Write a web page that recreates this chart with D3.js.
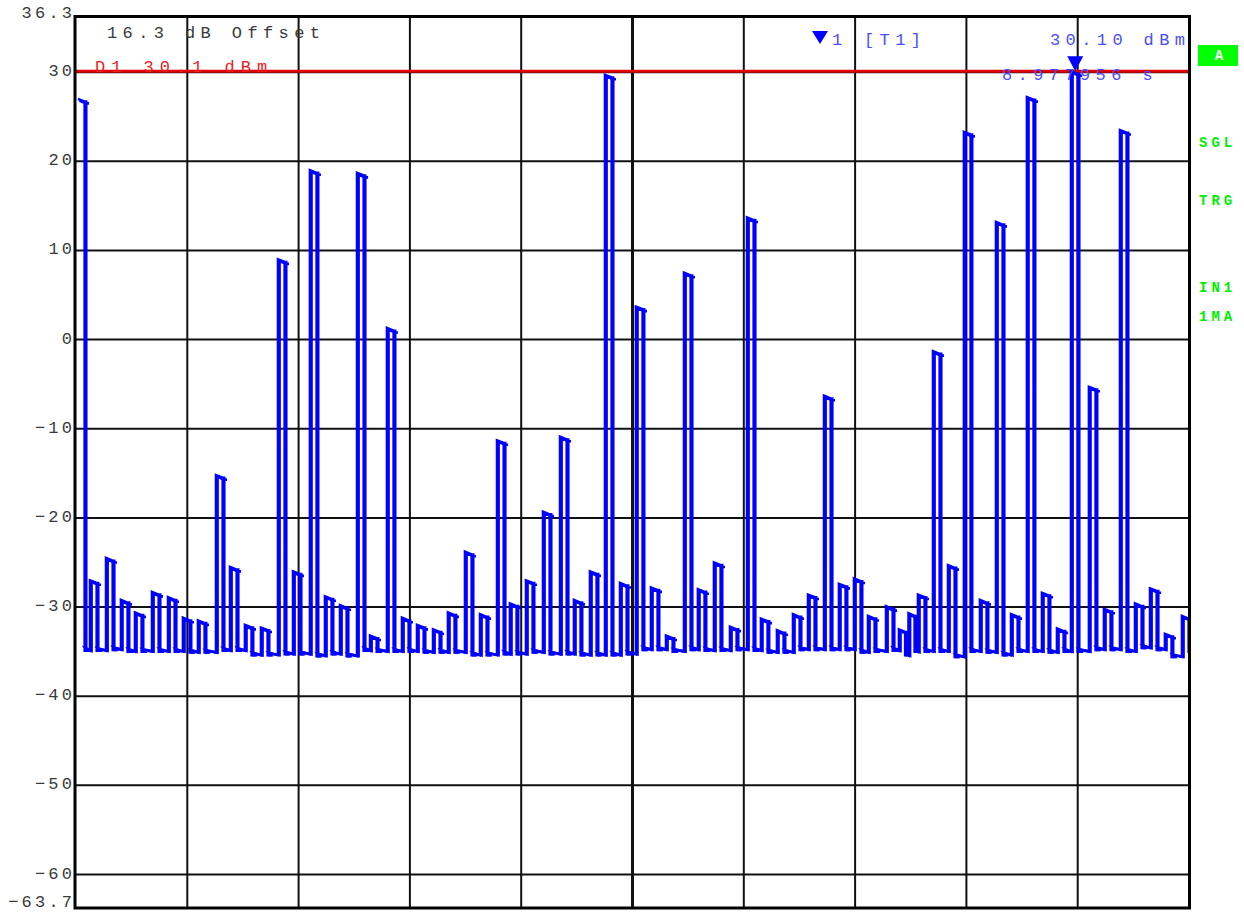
<!DOCTYPE html>
<html>
<head>
<meta charset="utf-8">
<script src="https://cdn.jsdelivr.net/npm/d3@7"></script>
<style>
  html, body { margin: 0; padding: 0; background: #fff; }
  svg { display: block; }
  text { font-family: "Liberation Mono", "DejaVu Sans Mono", monospace; }
</style>
</head>
<body>
<svg id="chart" width="1244" height="913"></svg>
<script>
// Zero-span power sweep: 10 s of burst power, ref level 36.3 dBm, 10 dB/div.
const sweepSeconds = [0, 10];
const levelRange = [-63.7, 36.3];
const yTickValues = [30, 20, 10, 0, -10, -20, -30, -40, -50, -60];

// Burst start times (s)
const burstStart = [
  0.018, 0.126, 0.270, 0.404, 0.530, 0.683, 0.827, 0.961, 1.096, 1.258,
  1.384, 1.518, 1.662, 1.815, 1.950, 2.102, 2.237, 2.372, 2.525, 2.642,
  2.794, 2.929, 3.064, 3.208, 3.342, 3.495, 3.630, 3.783, 3.899, 4.043,
  4.196, 4.349, 4.474, 4.618, 4.753, 4.888, 5.031, 5.166, 5.301, 5.463,
  5.588, 5.732, 5.876, 6.029, 6.154, 6.298, 6.442, 6.577, 6.721, 6.855,
  6.990, 7.116, 7.278, 7.394, 7.480, 7.565, 7.700, 7.835, 7.978, 8.122,
  8.266, 8.401, 8.544, 8.679, 8.814, 8.940, 9.101, 9.236, 9.380, 9.515,
  9.650, 9.784, 9.937
];
// Burst power (dBm)
const burstLevel = [
  27.0, -27.0, -24.5, -29.2, -30.6, -28.3, -28.9, -31.2, -31.5, -15.2,
  -25.5, -32.0, -32.3, 9.0, -26.0, 19.0, -28.8, -29.8, 18.7, -33.2,
  1.3, -31.2, -32.0, -32.5, -30.6, -23.8, -30.8, -11.3, -29.6, -27.0,
  -19.3, -10.9, -29.2, -26.0, 29.7, -27.3, 3.7, -27.8, -33.2, 7.5,
  -28.0, -25.0, -32.2, 13.7, -31.3, -32.6, -30.8, -28.6, -6.3, -27.4,
  -26.8, -31.0, -29.9, -32.5, -30.7, -28.6, -1.3, -25.3, 23.3, -29.2,
  13.2, -30.8, 27.2, -28.4, -32.4, 30.1, -5.3, -30.2, 23.5, -29.6,
  -27.9, -33.0, -31.0
];
// Noise floor between bursts (dBm), level reached after each burst
const gapFloor = [
  -34.9, -34.9, -34.8, -35.0, -35.0, -35.0, -35.0, -35.1, -35.1, -34.9,
  -34.9, -35.4, -35.4, -35.3, -35.3, -35.5, -35.3, -35.5, -34.9, -35.0,
  -35.0, -35.0, -35.1, -35.1, -35.1, -35.4, -35.4, -35.3, -35.3, -35.1,
  -35.3, -35.3, -35.4, -35.4, -35.4, -35.3, -34.8, -34.8, -35.0, -34.8,
  -34.9, -34.9, -34.8, -34.9, -35.1, -35.1, -34.8, -34.8, -34.8, -34.8,
  -35.1, -35.0, -34.9, -35.4, -35.0, -35.0, -35.0, -35.6, -35.0, -35.1,
  -35.4, -35.0, -35.0, -35.1, -35.0, -35.0, -34.8, -34.8, -35.0, -34.6,
  -34.8, -35.6, -35.0
];

const displayLine = 30.1;
const markerTime = 8.977956;
const markerLevel = 30.10;

const svg = d3.select("#chart");
const L = 76, R = 1189, T = 16, B = 907.5;
const x = d3.scaleLinear().domain(sweepSeconds).range([L, R]);
const y = d3.scaleLinear().domain(levelRange).range([B, T]);

const fmt = v => (v < 0 ? "\u2212" : "") + Math.abs(v);

// Grid
const grid = svg.append("g");
grid.selectAll("line.h").data(yTickValues).join("line")
  .attr("x1", L).attr("x2", R)
  .attr("y1", d => y(d)).attr("y2", d => y(d))
  .attr("stroke", "#111").attr("stroke-width", 2);
const xGrid = x.ticks(10).filter(d => d > sweepSeconds[0] && d < sweepSeconds[1]);
grid.selectAll("line.v").data(xGrid).join("line")
  .attr("x1", d => x(d)).attr("x2", d => x(d))
  .attr("y1", T).attr("y2", B)
  .attr("stroke", "#111").attr("stroke-width", d => d === 5 ? 3 : 2);

// Display line D1
svg.append("line")
  .attr("x1", L).attr("x2", R)
  .attr("y1", y(displayLine)).attr("y2", y(displayLine))
  .attr("stroke", "#e00000").attr("stroke-width", 3.2);

// Trace: each burst is a narrow pulse with a short overshoot tick after the top
// and the fall; the detector draws two samples per pixel, so the path is drawn
// twice with a sub-pixel time shift.
function tracePoints(dt, dl) {
  const burstWidth = 0.06, tick = 0.025;
  const pts = [];
  burstStart.forEach((s0, i) => {
    const s = s0 + dt;
    const lvl = burstLevel[i] + dl;
    const next = (i < burstStart.length - 1 ? burstStart[i + 1] : sweepSeconds[1] + 1) + dt;
    const e = Math.min(s + burstWidth, next - 0.03);
    const fl = gapFloor[i];
    if (i > 0) pts.push([s, gapFloor[i - 1]]);
    pts.push([s, lvl]);
    pts.push([e, lvl - 0.3]);
    pts.push([Math.min(e + tick, next - 0.01), lvl - 0.3]);
    pts.push([e, lvl - 0.3]);
    pts.push([e, fl]);
    pts.push([Math.min(e + tick * 0.7, next - 0.01), fl]);
    pts.push([e + tick * 0.2, fl + 0.25]);
  });
  return pts;
}
svg.append("clipPath").attr("id", "plotclip").append("rect")
  .attr("x", L).attr("y", T).attr("width", R - L).attr("height", B - T);
const line = d3.line().x(d => x(d[0])).y(d => y(d[1]));
const traceG = svg.append("g").attr("clip-path", "url(#plotclip)");
[[0, 0], [0.014, -0.2]].forEach(([dt, dl]) => {
  traceG.append("path")
    .attr("d", line(tracePoints(dt, dl)))
    .attr("fill", "none").attr("stroke", "#0000ff")
    .attr("stroke-width", 2.6).attr("stroke-linejoin", "miter");
});

// Frame
svg.append("rect")
  .attr("x", L - 1).attr("y", T + 0.5).attr("width", R - L + 1.5).attr("height", B - T)
  .attr("fill", "none").attr("stroke", "#000").attr("stroke-width", 3);

// Y labels
const ys = 3.2;
const ylab = svg.append("g").attr("fill", "#3a3a3a").attr("font-size", 17)
  .attr("letter-spacing", ys).attr("text-anchor", "end");
ylab.selectAll("text").data(yTickValues).join("text")
  .attr("x", 72 + ys).attr("y", d => y(d) + 4)
  .text(fmt);
ylab.append("text").attr("x", 72 + ys).attr("y", 18).text(levelRange[1]);
ylab.append("text").attr("x", 72 + ys).attr("y", 907).text(fmt(levelRange[0]));

// Header texts
const ls = 5.4;
svg.append("text").attr("x", 107).attr("y", 38).attr("font-size", 17)
  .attr("letter-spacing", ls).attr("fill", "#3a3a3a").text("16.3 dB Offset");
svg.append("text").attr("x", 95).attr("y", 72).attr("font-size", 17)
  .attr("letter-spacing", ls + 0.6).attr("fill", "#ee2020").text("D1 " + displayLine + " dBm");

const blue = "#4d4dff";
svg.append("path").attr("d", "M812,31 L828,31 L820,44 Z").attr("fill", "#0000ff");
svg.append("text").attr("x", 832).attr("y", 45).attr("font-size", 17)
  .attr("letter-spacing", ls).attr("fill", blue).text("1");
svg.append("text").attr("x", 864).attr("y", 45).attr("font-size", 17)
  .attr("letter-spacing", ls).attr("fill", blue).text("[T1]");
svg.append("text").attr("x", 1050).attr("y", 45).attr("font-size", 17)
  .attr("letter-spacing", ls).attr("fill", blue).text(markerLevel.toFixed(2) + " dBm");
svg.append("text").attr("x", 1002).attr("y", 80).attr("font-size", 17)
  .attr("letter-spacing", ls).attr("fill", blue).text(markerTime.toFixed(6) + " s");

// Marker symbol on the trace
const mx = x(markerTime), my = y(markerLevel);
svg.append("path")
  .attr("d", `M${mx - 8},${my - 15} L${mx + 8},${my - 15} L${mx},${my} Z`)
  .attr("fill", "#0000ff");

// Side annotations
svg.append("rect").attr("x", 1198).attr("y", 45).attr("width", 40).attr("height", 21)
  .attr("fill", "#00ff00");
svg.append("text").attr("x", 1219).attr("y", 60).attr("font-size", 14).attr("font-weight", "bold")
  .attr("text-anchor", "middle").attr("fill", "#fff").text("A");
const side = [["SGL", 147], ["TRG", 205], ["IN1", 292], ["1MA", 321]];
svg.selectAll("text.side").data(side).join("text")
  .attr("x", 1199).attr("y", d => d[1]).attr("font-size", 14).attr("font-weight", "bold")
  .attr("letter-spacing", 4).attr("fill", "#00ee00").text(d => d[0]);
</script>
</body>
</html>
